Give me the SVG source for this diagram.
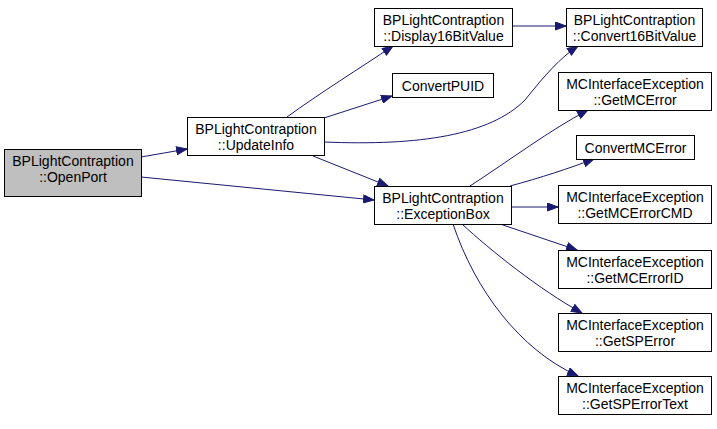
<svg xmlns="http://www.w3.org/2000/svg" width="717" height="429" viewBox="0 0 717 429">
<defs>
<style>
.n rect{fill:#ffffff;stroke:#000000;stroke-width:1}
.n.root rect{fill:#bfbfbf}
.n text{font-family:"Liberation Sans",Arial,sans-serif;font-size:14px;fill:#000000;text-anchor:middle}
.e path{fill:none;stroke:#191970;stroke-width:1;marker-end:url(#ah)}
</style>
<marker id="ah" markerUnits="userSpaceOnUse" markerWidth="12" markerHeight="9" refX="11" refY="4.5" orient="auto">
<path d="M0.5,0.5 L11,4.5 L0.5,8.5 z" fill="#191970" stroke="#191970" stroke-width="1"/>
</marker>
</defs>
<rect width="717" height="429" fill="#ffffff"/>
<g id="edges" class="e">
<path d="M141,157 L187,149"/>
<path d="M141,177 L374,200"/>
<path d="M287,117 C320,93 360,68 393,46"/>
<path d="M324,118 L392,96"/>
<path d="M324,142 C420,146 490,135 525,100 C545,75 560,58 578,46"/>
<path d="M313,156 L388,186"/>
<path d="M512,26 L566,26"/>
<path d="M470,186 C510,160 550,130 588,110"/>
<path d="M510,186 C540,178 570,168 594,159"/>
<path d="M511,207 L558,207"/>
<path d="M500,224 L577,250"/>
<path d="M462,224 C490,250 540,290 582,313"/>
<path d="M453,224 C475,290 520,350 578,376"/>
</g>
<g id="OpenPort" class="n root"><rect x="4.5" y="149.5" width="137" height="47"/><text x="73" y="166">BPLightContraption</text><text x="73" y="182">::OpenPort</text></g>
<g id="UpdateInfo" class="n"><rect x="187.5" y="117.5" width="137" height="38"/><text x="256" y="134">BPLightContraption</text><text x="256" y="150">::UpdateInfo</text></g>
<g id="Display16BitValue" class="n"><rect x="374.5" y="8.5" width="138" height="38"/><text x="443.5" y="25">BPLightContraption</text><text x="443.5" y="41">::Display16BitValue</text></g>
<g id="ConvertPUID" class="n"><rect x="392.5" y="73.5" width="101" height="24"/><text x="443" y="90.5">ConvertPUID</text></g>
<g id="Convert16BitValue" class="n"><rect x="566.5" y="8.5" width="136" height="38"/><text x="634.5" y="25">BPLightContraption</text><text x="634.5" y="41">::Convert16BitValue</text></g>
<g id="GetMCError" class="n"><rect x="558.5" y="72.5" width="153" height="38"/><text x="635" y="89">MCInterfaceException</text><text x="635" y="105">::GetMCError</text></g>
<g id="ConvertMCError" class="n"><rect x="576.5" y="135.5" width="118" height="24"/><text x="635.5" y="152.5">ConvertMCError</text></g>
<g id="ExceptionBox" class="n"><rect x="374.5" y="186.5" width="137" height="38"/><text x="443" y="203">BPLightContraption</text><text x="443" y="219">::ExceptionBox</text></g>
<g id="GetMCErrorCMD" class="n"><rect x="558.5" y="185.5" width="153" height="38"/><text x="635" y="202">MCInterfaceException</text><text x="635" y="218">::GetMCErrorCMD</text></g>
<g id="GetMCErrorID" class="n"><rect x="558.5" y="250.5" width="153" height="38"/><text x="635" y="267">MCInterfaceException</text><text x="635" y="283">::GetMCErrorID</text></g>
<g id="GetSPError" class="n"><rect x="558.5" y="313.5" width="153" height="38"/><text x="635" y="330">MCInterfaceException</text><text x="635" y="346">::GetSPError</text></g>
<g id="GetSPErrorText" class="n"><rect x="558.5" y="376.5" width="153" height="38"/><text x="635" y="393">MCInterfaceException</text><text x="635" y="409">::GetSPErrorText</text></g>
</svg>
